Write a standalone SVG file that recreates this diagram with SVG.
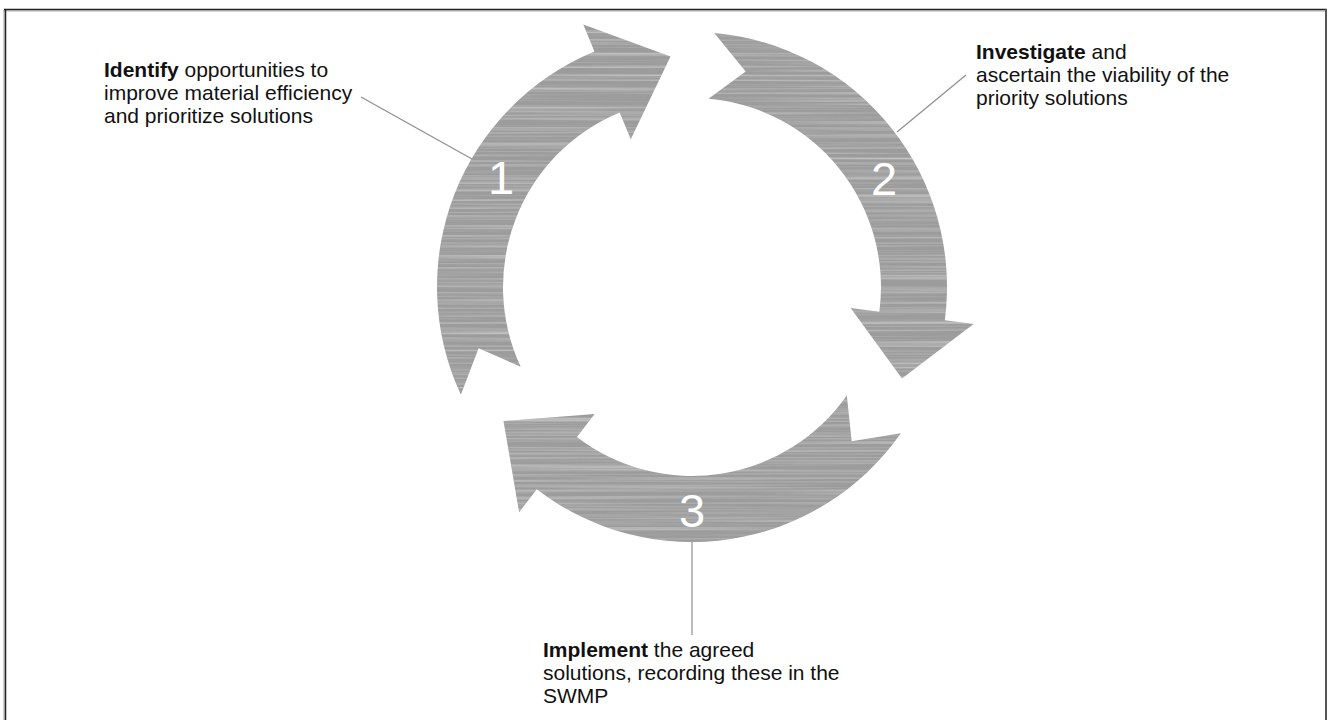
<svg xmlns="http://www.w3.org/2000/svg" width="1329" height="720" viewBox="0 0 1329 720">
<style>
.lbl{font-family:"Liberation Sans",Arial,sans-serif;font-size:21px;fill:#111}
.num{font-family:"Liberation Sans",Arial,sans-serif;font-size:47px;fill:#fff;text-anchor:middle}
.arrow{fill:#9c9c9c;filter:url(#brush)}
.lead{stroke:#8e8e8e;stroke-width:1.2;fill:none}
</style>
<defs>
<filter id="brush" x="0" y="0" width="1" height="1" color-interpolation-filters="sRGB">
<feTurbulence type="fractalNoise" baseFrequency="0.0025 0.4" numOctaves="2" seed="7" result="n"/>
<feColorMatrix in="n" type="matrix" values="0 0 0 0 1  0 0 0 0 1  0 0 0 0 1  0.9 0 0 0 -0.38" result="w"/>
<feComposite in="w" in2="SourceGraphic" operator="in" result="wc"/>
<feMerge><feMergeNode in="SourceGraphic"/><feMergeNode in="wc"/></feMerge>
</filter>
</defs>
<rect x="0" y="0" width="1329" height="720" fill="#fff"/>
<g id="frame">
<line x1="4" y1="11" x2="1326" y2="11" stroke="#aaa" stroke-width="1"/>
<line x1="4" y1="9.5" x2="1327" y2="9.5" stroke="#222" stroke-width="1.5"/>
<line x1="4" y1="10" x2="4" y2="720" stroke="#999" stroke-width="1"/>
<line x1="5.5" y1="9" x2="5.5" y2="720" stroke="#222" stroke-width="1.5"/>
<line x1="1326" y1="9" x2="1326" y2="720" stroke="#555" stroke-width="2"/>
</g>
<g id="connectors">
<line class="lead" x1="361" y1="97" x2="472" y2="159"/>
<line class="lead" x1="897" y1="132" x2="966" y2="75"/>
<line class="lead" x1="692" y1="542" x2="692" y2="635"/>
</g>
<g id="step1">
<path class="arrow" d="M460.89,394.77 A255,255 0 0 1 594.42,51.41 L583.32,24.62 L670.5,56.5 L630.77,139.18 L619.67,112.39 A189,189 0 0 0 520.71,366.87 L478.60,348.19 Z"/>
<text class="num" x="501" y="194">1</text>
</g>
<g id="step2">
<path class="arrow" d="M714.22,32.97 A255,255 0 0 1 944.82,320.28 L973.57,324.07 L902,378.5 L850.63,307.88 L879.38,311.67 A189,189 0 0 0 708.47,98.72 L745.71,71.59 Z"/>
<text class="num" x="884" y="195">2</text>
</g>
<g id="step3">
<path class="arrow" d="M900.88,433.26 A255,255 0 0 1 536.77,489.30 L519.11,512.31 L503.5,421 L594.60,413.94 L576.94,436.94 A189,189 0 0 0 846.82,395.41 L851.69,441.21 Z"/>
<text class="num" x="692" y="527">3</text>
</g>
<g id="label1">
<text class="lbl" x="104" y="77"><tspan font-weight="bold">Identify</tspan> opportunities to</text>
<text class="lbl" x="104" y="100">improve material efficiency</text>
<text class="lbl" x="104" y="123">and prioritize solutions</text>
</g>
<g id="label2">
<text class="lbl" x="976" y="59"><tspan font-weight="bold">Investigate</tspan> and</text>
<text class="lbl" x="976" y="82">ascertain the viability of the</text>
<text class="lbl" x="976" y="105">priority solutions</text>
</g>
<g id="label3">
<text class="lbl" x="543" y="657"><tspan font-weight="bold">Implement</tspan> the agreed</text>
<text class="lbl" x="543" y="680">solutions, recording these in the</text>
<text class="lbl" x="543" y="703">SWMP</text>
</g>
</svg>
